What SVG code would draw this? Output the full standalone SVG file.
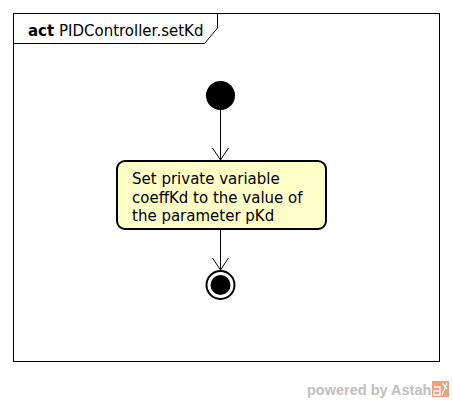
<svg xmlns="http://www.w3.org/2000/svg" width="453" height="402" viewBox="0 0 453 402">
<style>
.t{font-family:"DejaVu Sans",sans-serif;font-size:15px;fill:#000}
.ln{stroke:#000;stroke-width:1;fill:none}
</style>
<defs>
<marker id="open" markerWidth="24" markerHeight="24" refX="12" refY="12" orient="auto" markerUnits="userSpaceOnUse">
<path d="M0,4 L12,12 L0,20" fill="none" stroke="#000" stroke-width="1"/>
</marker>
</defs>
<rect width="453" height="402" fill="#fff"/>
<g id="frame">
<rect x="13.5" y="13.5" width="426" height="348" fill="none" stroke="#000" stroke-width="1"/>
<path d="M13.5,43.5 L204.5,43.5 L217.5,28 L217.5,13.5" fill="none" stroke="#000" stroke-width="1"/>
<text class="t" x="28" y="36"><tspan font-weight="bold">act</tspan> PIDController.setKd</text>
</g>
<g id="connectors">
<line class="ln" x1="220.5" y1="110" x2="220.5" y2="160" marker-end="url(#open)"/>
<line class="ln" x1="220.5" y1="230" x2="220.5" y2="270" marker-end="url(#open)"/>
</g>
<g id="initial">
<circle cx="220.5" cy="95.5" r="14.5" fill="#000"/>
</g>
<g id="action">
<rect x="117" y="161" width="209" height="68" rx="8" ry="8" fill="#ffffc8" stroke="#000" stroke-width="2"/>
<text class="t" x="132" y="184">Set private variable</text>
<text class="t" x="132" y="202.5">coeffKd to the value of</text>
<text class="t" x="132" y="221">the parameter pKd</text>
</g>
<g id="final">
<circle cx="220.5" cy="285" r="14" fill="#fff" stroke="#000" stroke-width="2"/>
<circle cx="220.5" cy="285" r="10" fill="#000"/>
</g>
<g id="watermark">
<text x="307" y="395" font-family="Liberation Sans,Arial,sans-serif" font-weight="bold" font-size="14.5" fill="#c0c0c0">powered by Astah</text>
<rect x="432" y="381" width="17" height="16" fill="#f0a080"/>
<path d="M434,387 L440,387 L440,395 M434,391 L440,391 L440,395 L434,395 Z M442,383 L447,389 M447,383 L442,395" fill="none" stroke="#fff" stroke-width="1.3"/>
</g>
</svg>
